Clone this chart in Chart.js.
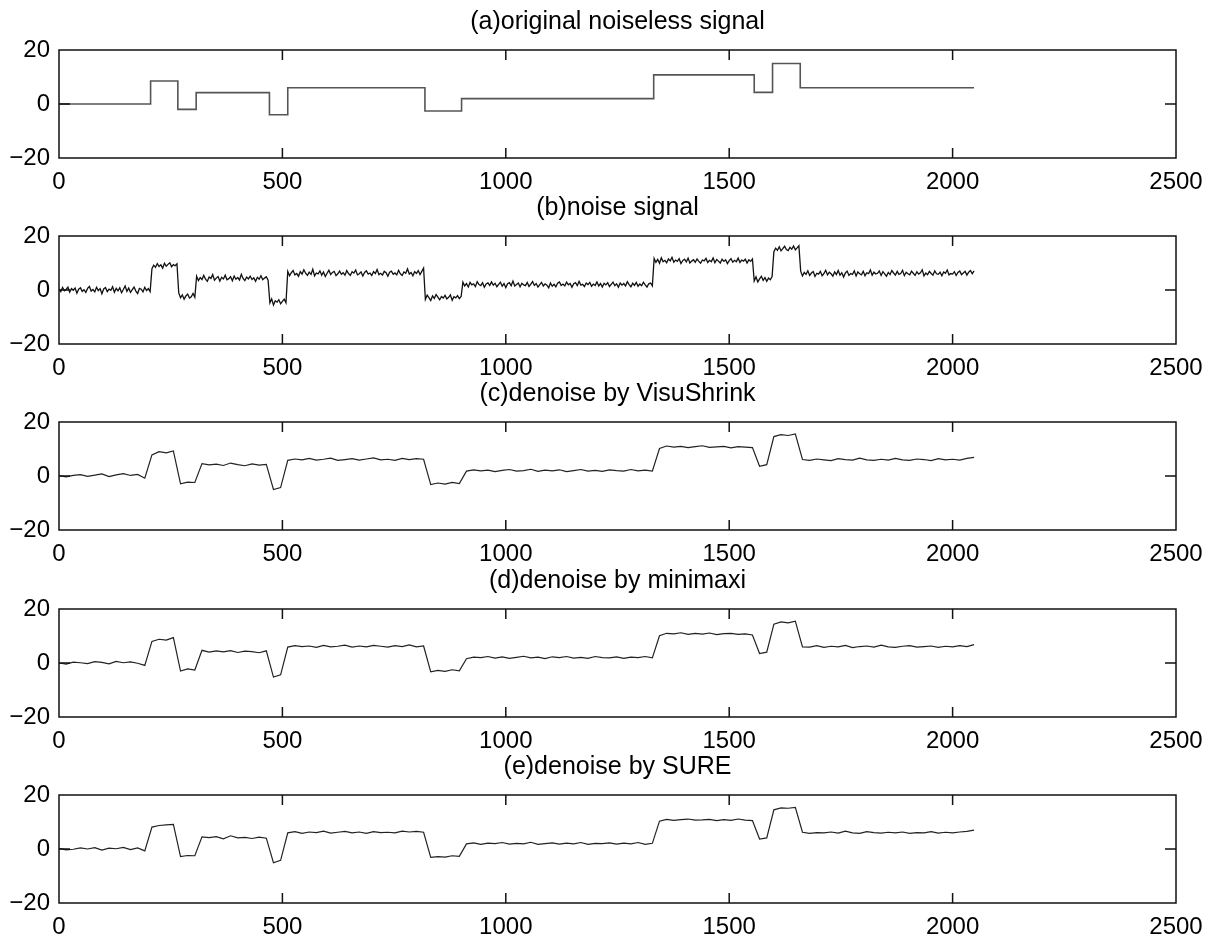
<!DOCTYPE html>
<html lang="en">
<head>
<meta charset="UTF-8">
<title>Blocks signal denoising</title>
<script src="https://cdn.jsdelivr.net/npm/chart.js@4.4.0/dist/chart.umd.min.js"></script>
<style>
    html, body { margin: 0; background: #fff; overflow: hidden; }
    .panel { position: absolute; left: 0; width: 1218px; height: 210px; }
</style>
</head>
<body>
<div class="panel" style="top:0px"><canvas id="pa" width="1218" height="210"></canvas></div>
<div class="panel" style="top:186px"><canvas id="pb" width="1218" height="210"></canvas></div>
<div class="panel" style="top:372px"><canvas id="pc" width="1218" height="210"></canvas></div>
<div class="panel" style="top:559px"><canvas id="pd" width="1218" height="210"></canvas></div>
<div class="panel" style="top:745px"><canvas id="pe" width="1218" height="210"></canvas></div>

<script>
// panel titles
const titles = [
    '(a)original noiseless signal',
    '(b)noise signal',
    '(c)denoise by VisuShrink',
    '(d)denoise by minimaxi',
    '(e)denoise by SURE'
];

// axis ticks
const xTicks = [0, 500, 1000, 1500, 2000, 2500];
const yTicks = [-20, 0, 20];

// (a) piecewise constant signal: jump positions and levels
const blockEdges  = [0, 205, 266, 307, 471, 512, 819, 901, 1331, 1556, 1597, 1659, 2048];
const blockLevels = [0, 8.5, -2, 4.2, -4, 6, -2.6, 2, 10.8, 4.3, 15, 6, 6];

// (b) noisy signal, one value every 4 samples
const NOISY_STEP = 4;
const noisy = [
    0.4,-0.6,0.9,-0.3,0.2,1.1,-0.8,0.5,-0.1,0.7,-1.2,0.3,0.8,-0.5,0.1,-0.9,0.6,1.3,-0.4,0.2,
    -0.7,1.0,-0.2,0.5,-1.4,0.4,0.9,-0.6,0.3,-0.1,1.2,-0.8,0.6,-0.3,0.8,-1.0,0.2,1.5,-0.5,0.7,
    -0.9,0.1,1.1,-0.4,-1.3,0.6,0.3,-0.7,1.0,-0.2,0.5,-0.6,
    7.9,9.2,8.4,9.8,8.7,9.3,8.1,9.9,8.8,9.5,10.1,8.6,9.4,9.0,9.7,
    -1.1,-2.9,-1.8,-3.4,-2.2,-1.5,-3.0,-2.5,-1.3,-2.7,
    5.1,3.5,4.6,3.9,5.4,4.0,3.2,4.8,4.3,5.7,3.6,4.4,5.0,3.3,4.7,4.1,5.5,3.8,4.2,4.9,
    3.4,5.2,4.0,4.6,3.7,5.8,4.3,3.5,4.8,4.1,5.1,3.9,4.5,3.2,4.7,4.0,5.3,3.8,4.4,4.9,3.6,
    -4.8,-3.3,-5.6,-4.0,-4.5,-3.6,-5.1,-4.2,-3.4,-4.7,
    6.9,5.3,6.4,7.2,5.6,6.1,5.1,6.8,5.9,7.5,6.2,5.4,6.6,5.8,7.7,5.2,6.3,6.0,7.1,5.5,
    6.7,5.0,6.2,7.3,5.7,6.5,6.9,5.3,6.0,7.0,5.8,6.4,5.5,7.2,6.1,5.4,6.8,6.3,7.4,5.6,
    6.0,6.7,5.2,6.5,7.1,5.9,6.3,5.4,6.8,6.1,7.6,5.7,6.2,5.5,6.9,6.4,5.1,6.6,7.0,5.8,
    6.3,5.6,7.3,6.0,5.4,6.7,6.2,7.8,5.9,6.5,5.3,6.8,6.1,7.2,5.7,6.9,8.1,
    -3.5,-1.9,-2.8,-3.9,-2.2,-3.1,-1.7,-2.6,-3.6,-2.4,-3.0,-2.0,-3.3,-2.7,-1.8,-3.8,-2.5,-2.9,-2.1,-3.2,-2.4,
    2.9,1.5,2.4,1.1,2.8,1.9,2.3,1.3,3.1,2.0,1.6,2.7,1.0,2.2,2.6,1.7,3.0,1.8,2.5,1.2,
    2.1,2.9,1.4,2.4,0.9,2.3,2.7,1.6,3.3,1.5,2.0,2.6,1.2,2.5,1.9,1.6,2.8,1.3,2.2,3.1,
    1.7,2.4,1.1,2.0,2.8,1.5,2.3,1.8,0.8,2.6,1.4,2.1,1.2,2.5,3.0,1.7,2.2,1.5,2.9,1.9,
    2.4,1.0,2.3,2.7,1.6,3.2,1.8,2.1,1.3,2.6,2.0,2.8,1.4,2.2,1.7,3.0,1.5,2.4,1.1,2.5,
    1.9,2.7,1.3,2.1,2.9,1.6,2.3,1.0,2.6,1.8,2.4,1.5,3.1,2.0,1.2,2.5,1.7,2.8,1.4,2.2,
    1.6,2.9,1.9,1.1,2.3,2.6,1.5,
    11.7,10.2,11.3,9.9,11.9,10.5,11.0,10.1,11.5,10.8,12.1,10.3,11.1,10.6,11.6,9.8,10.9,11.4,10.4,11.8,
    10.0,10.7,11.2,10.3,11.5,10.6,9.9,11.1,10.8,11.7,10.2,11.0,10.5,11.9,10.1,11.3,10.7,10.0,11.4,10.6,
    11.2,9.8,10.9,11.6,10.3,11.0,10.5,11.8,10.2,11.1,10.7,11.4,10.0,11.2,10.6,11.5,
    3.3,4.9,3.0,4.1,5.1,3.6,4.6,3.2,4.4,3.8,5.0,
    14.2,15.5,14.7,16.0,14.5,15.3,16.2,15.0,14.6,15.8,15.1,16.3,14.9,15.6,16.4,
    7.0,5.2,6.5,5.8,7.1,5.4,6.3,6.8,5.0,6.2,5.9,6.9,5.3,6.1,7.3,5.6,6.6,6.0,5.1,6.7,
    5.7,7.2,5.5,6.4,4.8,6.3,7.0,5.4,6.1,5.8,7.1,5.2,6.7,6.0,5.6,6.9,5.3,6.4,6.1,7.4,
    5.5,6.6,5.9,6.2,7.0,5.4,6.8,6.0,5.1,6.5,5.7,7.2,6.3,5.5,6.9,5.8,6.1,7.3,5.3,6.6,
    6.0,5.6,7.0,6.2,5.4,6.8,5.9,6.4,7.5,5.2,6.3,5.7,6.9,6.1,5.5,7.1,6.0,5.8,6.6,5.3,
    6.7,6.2,7.4,5.6,6.1,5.9,6.8,5.4,6.5,7.0,5.7,6.3,6.9,5.5,6.6,7.2,6.0,7.1
];

// (c)-(e) denoised signals, one value every 16 samples
const SMOOTH_STEP = 16;
const visuShrink = [
    0.1,-0.3,0.2,0.5,-0.1,0.3,0.8,-0.2,0.4,0.9,0.2,0.6,-0.8,
    7.8,9.0,8.6,9.3,
    -2.9,-2.3,-2.4,
    4.6,4.1,4.4,3.9,4.8,4.2,3.8,4.5,4.0,4.3,
    -5.0,-4.3,
    5.8,6.3,6.0,6.5,5.9,6.2,6.6,5.8,6.1,6.4,5.9,6.3,6.7,6.0,6.2,5.8,6.5,6.1,6.4,6.2,
    -3.2,-2.6,-3.0,-2.4,-2.8,
    1.8,2.3,1.9,2.2,1.6,2.1,2.4,1.8,2.0,2.5,1.7,2.2,1.9,2.3,1.6,2.0,2.4,1.8,2.1,1.7,2.3,2.0,1.8,2.4,1.9,2.2,1.8,
    10.2,11.1,10.7,11.0,10.5,10.9,11.2,10.6,10.8,11.0,10.4,10.9,10.7,10.5,
    3.6,4.2,
    14.6,15.3,15.0,15.6,
    6.1,5.8,6.3,6.0,5.7,6.4,6.1,5.9,6.6,6.0,5.8,6.2,5.9,6.5,6.0,5.8,6.3,6.1,5.7,6.4,6.0,6.2,5.9,6.5,6.9
];
const minimaxi = [
    0.0,-0.4,0.3,0.1,-0.2,0.5,0.2,-0.3,0.6,0.1,0.4,-0.1,-0.9,
    8.0,8.8,8.5,9.4,
    -3.0,-2.2,-2.6,
    4.7,4.0,4.5,4.1,4.6,3.9,4.4,4.2,3.8,4.5,
    -5.2,-4.4,
    5.9,6.4,6.1,6.3,5.8,6.5,6.0,6.2,6.6,5.9,6.3,6.0,6.5,6.2,5.9,6.4,6.1,6.7,6.0,6.3,
    -3.3,-2.7,-3.1,-2.5,-2.9,
    1.6,2.2,2.0,2.4,1.8,2.3,1.7,2.1,2.5,1.9,2.2,1.6,2.3,2.0,2.4,1.8,2.1,1.7,2.4,2.0,1.9,2.3,1.7,2.2,2.0,2.4,1.9,
    10.1,11.0,10.8,11.2,10.6,11.0,10.7,11.1,10.5,10.9,11.0,10.6,10.8,10.4,
    3.5,4.0,
    14.4,15.2,14.9,15.5,
    6.0,5.9,6.4,5.8,6.2,6.0,6.5,5.7,6.1,6.3,5.9,6.6,6.0,5.8,6.2,6.4,5.9,6.1,6.3,5.8,6.2,6.0,6.4,6.1,6.8
];
const sure = [
    0.2,-0.3,-0.1,0.4,0.0,0.5,-0.4,0.3,0.1,0.6,-0.2,0.4,-0.7,
    8.1,8.7,8.9,9.1,
    -2.8,-2.4,-2.5,
    4.5,4.2,4.6,3.8,4.9,4.1,4.3,3.9,4.4,4.0,
    -5.1,-4.2,
    6.0,6.4,5.8,6.3,6.1,6.6,5.9,6.2,6.5,6.0,6.3,5.8,6.4,6.1,6.2,6.0,6.6,6.3,6.5,6.2,
    -3.1,-2.8,-3.0,-2.5,-2.7,
    1.9,2.3,1.7,2.2,2.0,2.4,1.8,2.1,1.9,2.5,1.7,2.0,2.3,1.8,2.2,1.9,2.4,1.7,2.1,2.0,2.3,1.8,2.2,1.9,2.4,1.7,2.1,
    10.3,11.0,10.6,10.9,11.1,10.7,10.8,11.0,10.5,10.9,10.6,11.1,10.7,10.5,
    3.7,4.1,
    14.5,15.2,15.1,15.4,
    6.2,5.8,6.1,6.0,6.3,5.9,6.6,6.0,5.8,6.4,6.1,5.9,6.2,6.0,6.3,5.8,6.1,6.0,6.4,5.9,6.2,6.0,6.3,6.5,7.0
];

const FONT = "'Liberation Sans', Arial, Helvetica, sans-serif";

// box around the plot with inward ticks (matlab style) and the title centred over the box
const boxPlugin = {
    id: 'box',
    afterDatasetsDraw(chart, args, opts) {
        const { ctx, chartArea: a, scales } = chart;
        ctx.save();
        ctx.strokeStyle = '#111';
        ctx.lineWidth = 1.5;
        ctx.strokeRect(a.left, a.top, a.right - a.left, a.bottom - a.top);
        ctx.beginPath();
        xTicks.slice(1, -1).forEach(v => {
            const x = scales.x.getPixelForValue(v);
            ctx.moveTo(x, a.top); ctx.lineTo(x, a.top + 10);
            ctx.moveTo(x, a.bottom); ctx.lineTo(x, a.bottom - 10);
        });
        yTicks.slice(1, -1).forEach(v => {
            const y = scales.y.getPixelForValue(v);
            ctx.moveTo(a.left, y); ctx.lineTo(a.left + 11, y);
            ctx.moveTo(a.right, y); ctx.lineTo(a.right - 11, y);
        });
        ctx.stroke();

        ctx.fillStyle = '#000';
        ctx.font = '25px ' + FONT;
        ctx.textAlign = 'center';
        ctx.textBaseline = 'alphabetic';
        ctx.fillText(opts.text, (a.left + a.right) / 2, a.top - 21);
        ctx.restore();
    }
};

function makePanel(id, title, points, style) {
    new Chart(document.getElementById(id), {
        type: 'line',
        data: {
            datasets: [{
                data: points,
                borderColor: style.color,
                borderWidth: style.width,
                stepped: style.stepped || false,
                pointRadius: 0,
                tension: 0,
                fill: false
            }]
        },
        options: {
            responsive: false,
            animation: false,
            events: [],
            layout: { padding: { left: 0, right: 42, top: 50, bottom: 0 } },
            plugins: {
                legend: { display: false },
                tooltip: { enabled: false },
                title: { display: false },
                box: { text: title }
            },
            scales: {
                x: {
                    type: 'linear',
                    min: 0,
                    max: 2500,
                    afterBuildTicks: s => { s.ticks = xTicks.map(v => ({ value: v })); },
                    afterFit: s => { s.height = 52; },
                    grid: { display: false, drawTicks: false },
                    border: { display: false },
                    ticks: {
                        color: '#000',
                        font: { family: FONT, size: 24 },
                        padding: 10,
                        maxRotation: 0,
                        autoSkip: false,
                        callback: v => String(v)
                    }
                },
                y: {
                    min: -20,
                    max: 20,
                    afterBuildTicks: s => { s.ticks = yTicks.map(v => ({ value: v })); },
                    afterFit: s => { s.width = 59; },
                    grid: { display: false, drawTicks: false },
                    border: { display: false },
                    ticks: {
                        color: '#000',
                        font: { family: FONT, size: 24 },
                        padding: 9,
                        callback: v => String(v).replace('-', '\u2212')
                    }
                }
            }
        },
        plugins: [boxPlugin]
    });
}

const blockPoints = blockEdges.map((x, i) => ({ x: x, y: blockLevels[i] }));
const toPoints = (vals, step) => vals.map((v, i) => ({ x: i * step, y: v }));

makePanel('pa', titles[0], blockPoints, { color: '#555', width: 1.6, stepped: true });
makePanel('pb', titles[1], toPoints(noisy, NOISY_STEP), { color: '#111', width: 1.3 });
makePanel('pc', titles[2], toPoints(visuShrink, SMOOTH_STEP), { color: '#222', width: 1.2 });
makePanel('pd', titles[3], toPoints(minimaxi, SMOOTH_STEP), { color: '#222', width: 1.2 });
makePanel('pe', titles[4], toPoints(sure, SMOOTH_STEP), { color: '#222', width: 1.2 });
</script>
</body>
</html>
